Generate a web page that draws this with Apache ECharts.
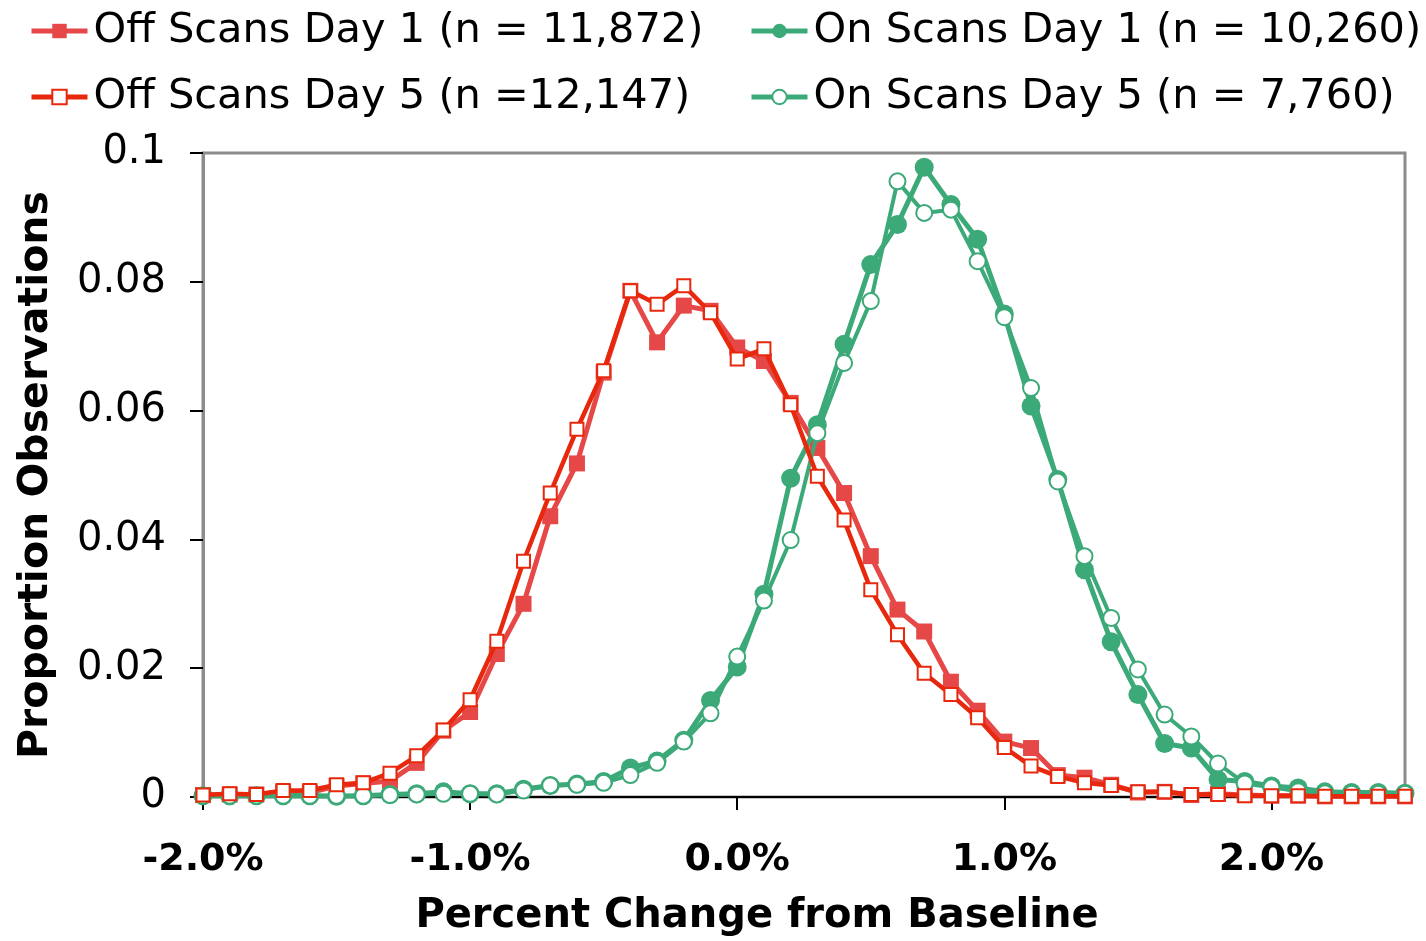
<!DOCTYPE html>
<html>
<head>
<meta charset="utf-8">
<script src="https://cdn.jsdelivr.net/npm/echarts@6/dist/echarts.min.js"></script>
<style>
  html, body { margin: 0; padding: 0; background: #fff; }
  #chart { width: 1426px; height: 941px; }
</style>
</head>
<body>
<div id="chart"></div>
<script>
// x categories (percent change from baseline)
var categories = ['-2.0%', '-1.9%', '-1.8%', '-1.7%', '-1.6%', '-1.5%', '-1.4%', '-1.3%', '-1.2%', '-1.1%',
  '-1.0%', '-0.9%', '-0.8%', '-0.7%', '-0.6%', '-0.5%', '-0.4%', '-0.3%', '-0.2%', '-0.1%',
  '0.0%', '0.1%', '0.2%', '0.3%', '0.4%', '0.5%', '0.6%', '0.7%', '0.8%', '0.9%',
  '1.0%', '1.1%', '1.2%', '1.3%', '1.4%', '1.5%', '1.6%', '1.7%', '1.8%', '1.9%',
  '2.0%', '2.1%', '2.2%', '2.3%', '2.4%', '2.5%']

var seriesNames = [
  'Off Scans Day 1 (n = 11,872)',
  'On Scans Day 1 (n = 10,260)',
  'Off Scans Day 5 (n =12,147)',
  'On Scans Day 5 (n = 7,760)'
]

// proportion of observations per bin
var offDay1 = [0.0003, 0.0004, 0.0004, 0.0008, 0.0007, 0.0017, 0.0021, 0.0025, 0.0053, 0.0103,
  0.0132, 0.0222, 0.0300, 0.0436, 0.0518, 0.0659, 0.0786, 0.0706, 0.0763, 0.0755,
  0.0698, 0.0677, 0.0612, 0.0542, 0.0472, 0.0374, 0.0291, 0.0257, 0.0179, 0.0134,
  0.0086, 0.0076, 0.0034, 0.0030, 0.0019, 0.0007, 0.0008, 0.0003, 0.0005, 0.0003,
  0.0002, 0.0002, 0.0001, 0.0001, 0.0001, 0.0001]
var offDay5 = [0.0003, 0.0005, 0.0004, 0.0010, 0.0010, 0.0019, 0.0022, 0.0037, 0.0064, 0.0104,
  0.0151, 0.0242, 0.0366, 0.0472, 0.0571, 0.0662, 0.0786, 0.0765, 0.0794, 0.0752,
  0.0680, 0.0696, 0.0609, 0.0498, 0.0430, 0.0322, 0.0252, 0.0192, 0.0159, 0.0123,
  0.0077, 0.0048, 0.0032, 0.0022, 0.0018, 0.0008, 0.0008, 0.0004, 0.0004, 0.0002,
  0.0002, 0.0002, 0.0001, 0.0001, 0.0001, 0.0001]
var onDay1 = [0.0002, 0.0002, 0.0002, 0.0002, 0.0002, 0.0001, 0.0002, 0.0004, 0.0005, 0.0008,
  0.0005, 0.0005, 0.0012, 0.0018, 0.0020, 0.0024, 0.0045, 0.0056, 0.0088, 0.0150,
  0.0202, 0.0315, 0.0495, 0.0578, 0.0703, 0.0827, 0.0889, 0.0978, 0.0920, 0.0866,
  0.0750, 0.0607, 0.0493, 0.0353, 0.0241, 0.0159, 0.0083, 0.0076, 0.0027, 0.0024,
  0.0017, 0.0014, 0.0008, 0.0007, 0.0007, 0.0006]
var onDay5 = [0.0002, 0.0002, 0.0002, 0.0002, 0.0002, 0.0002, 0.0002, 0.0003, 0.0004, 0.0005,
  0.0005, 0.0004, 0.0010, 0.0018, 0.0019, 0.0022, 0.0034, 0.0053, 0.0086, 0.0130,
  0.0218, 0.0305, 0.0399, 0.0565, 0.0674, 0.0770, 0.0956, 0.0907, 0.0912, 0.0832,
  0.0745, 0.0635, 0.0490, 0.0374, 0.0278, 0.0198, 0.0128, 0.0094, 0.0052, 0.0021,
  0.0015, 0.0009, 0.0006, 0.0005, 0.0005, 0.0005]

var FONT = 'DejaVu Sans'
var RED1 = '#E64848'
var RED5 = '#E8280C'
var GREEN = '#3CA979'

var chart = echarts.init(document.getElementById('chart'), null, { renderer: 'canvas' })

// one legend per item so the two columns line up
function legendAt(name, left, top) {
  return {
    data: [name],
    left: left,
    top: top,
    itemWidth: 56,
    itemHeight: 18,
    lineStyle: { width: 5 },
    textStyle: { fontFamily: FONT, fontSize: 41.5, color: '#000', padding: [0, 0, 0, 1] }
  }
}

var option = {
  animation: false,
  backgroundColor: '#fff',
  legend: [
    legendAt(seriesNames[0], 24, 5),
    legendAt(seriesNames[1], 744, 5),
    legendAt(seriesNames[2], 24, 71),
    legendAt(seriesNames[3], 744, 71)
  ],
  grid: {
    left: 203, right: 21, top: 153, bottom: 144,
    outerBoundsMode: 'none',
    show: true, borderColor: '#8c8c8c', borderWidth: 3, backgroundColor: '#fff'
  },
  xAxis: {
    type: 'category',
    data: categories,
    boundaryGap: false,
    name: 'Percent Change from Baseline',
    nameLocation: 'middle',
    nameGap: 100,
    nameTextStyle: { fontFamily: FONT, fontSize: 40, fontWeight: 'bold', color: '#000', padding: [0, 94, 0, 0] },
    axisLine: { lineStyle: { color: '#000', width: 2 } },
    axisTick: { interval: 9, length: 13, lineStyle: { color: '#000', width: 2 } },
    axisLabel: { interval: 9, margin: 44, fontFamily: FONT, fontSize: 38, fontWeight: 'bold', color: '#000' },
    splitLine: { show: false }
  },
  yAxis: {
    type: 'value',
    min: 0, max: 0.1, interval: 0.02,
    name: 'Proportion Observations',
    nameLocation: 'middle',
    nameGap: 146,
    nameTextStyle: { fontFamily: FONT, fontSize: 41, fontWeight: 'bold', color: '#000' },
    axisLine: { show: true, lineStyle: { color: '#8c8c8c', width: 3 } },
    axisTick: { show: true, length: 13, lineStyle: { color: '#000', width: 2 } },
    axisLabel: { margin: 37, fontFamily: FONT, fontSize: 40, color: '#000' },
    splitLine: { show: false }
  },
  series: [
    {
      name: seriesNames[0], type: 'line', data: offDay1, z: 2,
      symbol: 'rect', symbolSize: 16, showAllSymbol: true,
      itemStyle: { color: RED1 },
      lineStyle: { color: RED1, width: 5 }
    },
    {
      name: seriesNames[1], type: 'line', data: onDay1, z: 3,
      symbol: 'circle', symbolSize: 19, showAllSymbol: true,
      itemStyle: { color: GREEN },
      lineStyle: { color: GREEN, width: 5 }
    },
    {
      name: seriesNames[3], type: 'line', data: onDay5, z: 4,
      symbol: 'emptyCircle', symbolSize: 16, showAllSymbol: true,
      itemStyle: { color: GREEN, borderColor: GREEN, borderWidth: 3 },
      lineStyle: { color: GREEN, width: 4 }
    },
    {
      name: seriesNames[2], type: 'line', data: offDay5, z: 5,
      symbol: 'emptyRect', symbolSize: 13, showAllSymbol: true,
      itemStyle: { color: RED5, borderColor: RED5, borderWidth: 3 },
      lineStyle: { color: RED5, width: 4.5 }
    }
  ]
}

chart.setOption(option)
</script>
</body>
</html>
